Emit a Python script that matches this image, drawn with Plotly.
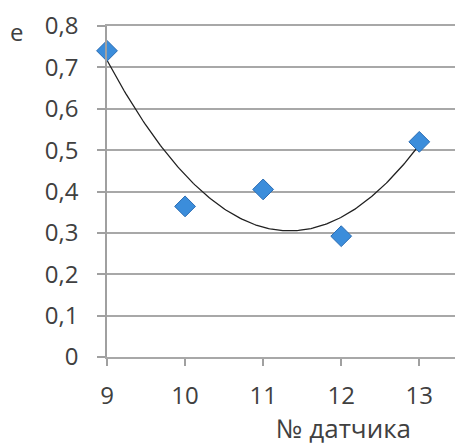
import numpy as np
import plotly.graph_objects as go

sensor_no = [9, 10, 11, 12, 13]
e_values = [0.74, 0.364, 0.405, 0.292, 0.52]
y_ticks = [0, 0.1, 0.2, 0.3, 0.4, 0.5, 0.6, 0.7, 0.8]
y_tick_labels = ["0", "0,1", "0,2", "0,3", "0,4", "0,5", "0,6", "0,7", "0,8"]
x_ticks = [9, 10, 11, 12, 13]
x_tick_labels = ["9", "10", "11", "12", "13"]

# polynomial (order 2) trendline from the data
coef = np.polyfit(sensor_no, e_values, 2)
xt = np.linspace(min(sensor_no), max(sensor_no), 200)
yt = np.polyval(coef, xt)

FONT = "Open Sans"
TXT = "#404040"
GRID = "#a8a8a8"

fig = go.Figure()
fig.add_trace(go.Scatter(x=xt, y=yt, mode="lines",
                         line=dict(color="#202020", width=1.3),
                         hoverinfo="skip", showlegend=False))
fig.add_trace(go.Scatter(x=sensor_no, y=e_values, mode="markers",
                         marker=dict(symbol="diamond", size=16, color="#3b8ddb",
                                     line=dict(color="#2a6cb3", width=1)),
                         cliponaxis=False, showlegend=False))

fig.update_layout(
    width=455, height=437,
    margin=dict(l=99, r=0, t=15, b=88),
    paper_bgcolor="white", plot_bgcolor="white",
    font=dict(family=FONT, size=24, color=TXT),
    xaxis=dict(range=[9, 13.56], tickvals=x_ticks, ticktext=x_tick_labels,
               showgrid=False, zeroline=False,
               showline=True, mirror=True, linecolor=GRID, linewidth=1.5,
               ticks="outside", ticklen=7, tickcolor="#a0a0a0", tickwidth=1.5,
               ticklabelstandoff=9),
    yaxis=dict(range=[0, 0.8], tickvals=y_ticks, ticktext=y_tick_labels,
               showgrid=True, gridcolor=GRID, gridwidth=1.5,
               zeroline=False, showline=True, linecolor="#a0a0a0", linewidth=1.5,
               ticks="outside", ticklen=8, tickcolor="#a0a0a0", tickwidth=1.5,
               ticklabelstandoff=14, ticklabeloverflow="allow"),
    annotations=[
        dict(text="e", xref="paper", yref="paper", x=-0.253, y=0.982,
             xanchor="center", yanchor="middle", showarrow=False,
             font=dict(family=FONT, size=24, color=TXT)),
        dict(text="№ датчика", xref="paper", yref="paper", x=(343 - 107) / 356,
             y=-0.213, xanchor="center", yanchor="middle", showarrow=False,
             font=dict(family=FONT, size=26, color=TXT)),
    ],
)

fig.write_html("out.html")
